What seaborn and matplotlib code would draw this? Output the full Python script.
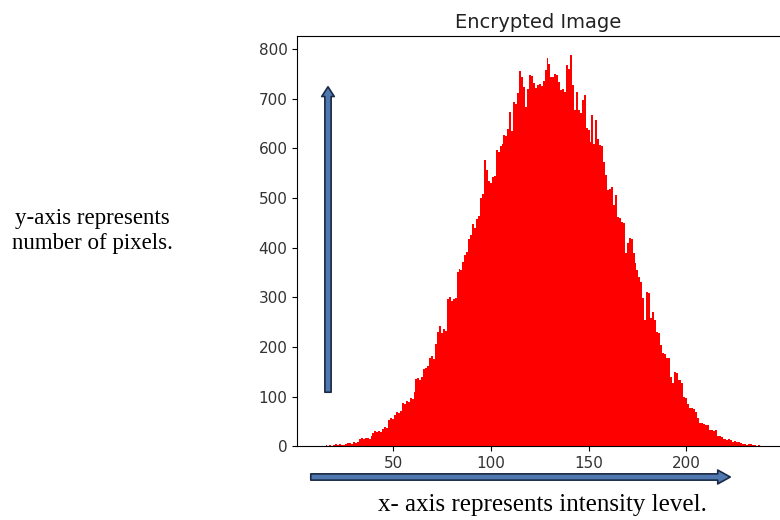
import matplotlib
matplotlib.use("Agg")
import matplotlib.pyplot as plt
from matplotlib.patches import FancyArrowPatch
import seaborn as sns

# intensity levels and pixel counts
levels = list(range(13, 240))
counts = [
    0, 1, 0, 2, 1, 2, 1, 3, 4, 3, 4, 3, 2, 4, 6, 7, 5, 8, 7, 9,          # 13-32
    14, 16, 15, 17, 16, 14, 20, 27, 30, 28, 31, 29, 35, 38, 36, 52,       # 33-48
    57, 55, 62, 68, 66, 71, 88, 85, 92, 89, 97, 95, 110, 135, 138, 133,   # 49-64
    140, 155, 158, 162, 178, 182, 176, 205, 230, 242, 228, 236, 233,      # 65-77
    296, 300, 292, 296, 298, 352, 358, 356, 372, 385, 392, 418, 425,      # 78-90
    448, 440, 458, 463, 500, 508, 577, 556, 534, 530, 542, 545, 596,      # 91-103
    592, 606, 610, 628, 625, 640, 674, 636, 694, 690, 712, 757, 744,      # 104-116
    724, 683, 720, 748, 746, 733, 721, 727, 730, 725, 737, 758, 782,      # 117-129
    771, 745, 744, 751, 748, 734, 717, 719, 714, 768, 760, 788, 727,      # 130-142
    677, 713, 677, 672, 697, 707, 641, 637, 613, 667, 610, 657, 620,      # 143-155
    607, 605, 572, 546, 516, 518, 522, 486, 506, 462, 460, 451, 449,      # 156-168
    389, 409, 419, 418, 389, 370, 355, 340, 330, 298, 254, 310, 308,      # 169-181
    258, 270, 254, 230, 228, 203, 187, 185, 177, 178, 139, 127, 149,      # 182-194
    147, 133, 134, 127, 99, 97, 85, 76, 77, 75, 69, 56, 46,               # 195-207
    47, 45, 42, 43, 33, 32, 31, 33, 20, 21, 19, 14, 15,                   # 208-220
    13, 14, 12, 9, 10, 8, 8, 7, 4, 5, 3, 4, 4,                            # 221-233
    2, 2, 1, 2, 0, 1,                                                     # 234-239
]
x_ticks = [50, 100, 150, 200]
y_ticks = [0, 100, 200, 300, 400, 500, 600, 700, 800]

fig = plt.figure(figsize=(7.8, 5.2), dpi=100)
ax = fig.add_axes([0.381, 0.142, 0.618, 0.789])

sns.histplot(x=levels, weights=counts, discrete=True, color="red",
             alpha=1, linewidth=0, ax=ax)

ax.set_xlim(1, 247.5)
ax.set_ylim(0, 827)
ax.set_xticks(x_ticks)
ax.set_yticks(y_ticks)
ax.tick_params(labelsize=11, colors="#333333")
ax.tick_params(axis="both", color="black")
ax.set_xlabel("")
ax.set_ylabel("")
ax.spines["right"].set_visible(False)
ax.set_title("Encrypted Image", fontsize=14, color="#222222", pad=6)

# arrows drawn on the figure
arrow_fc = "#5078b0"
arrow_ec = "#1a2a45"
v_arrow = FancyArrowPatch((328 / 780, 1 - 395 / 520), (328 / 780, 1 - 84 / 520),
                          transform=fig.transFigure,
                          arrowstyle="simple,head_width=9,head_length=7,tail_width=4.5",
                          mutation_scale=1, fc=arrow_fc, ec=arrow_ec, lw=1.2)
h_arrow = FancyArrowPatch((308 / 780, 1 - 477 / 520), (733 / 780, 1 - 477 / 520),
                          transform=fig.transFigure,
                          arrowstyle="simple,head_width=10,head_length=9,tail_width=4.5",
                          mutation_scale=1, fc=arrow_fc, ec=arrow_ec, lw=1.2)
fig.add_artist(v_arrow)
fig.add_artist(h_arrow)

fig.text(92 / 780, 1 - 231 / 520, "y-axis represents\nnumber of pixels.",
         family="Liberation Serif", fontsize=16.5, ha="center", va="center",
         linespacing=1.25)
fig.text(542 / 780, 1 - 505 / 520, "x- axis represents intensity level.",
         family="Liberation Serif", fontsize=18, ha="center", va="center")

fig.savefig("out.png", dpi=100)
